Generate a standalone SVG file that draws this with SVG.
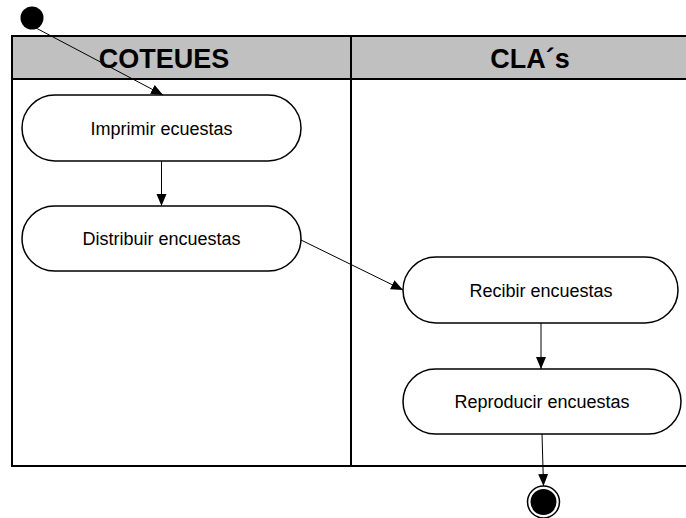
<svg xmlns="http://www.w3.org/2000/svg" width="686" height="518" viewBox="0 0 686 518">
<style>
.lane{fill:none;stroke:#000;stroke-width:2}
.head{fill:#c0c0c0;stroke:#000;stroke-width:2}
.ht{font-family:"Liberation Sans",Arial,sans-serif;font-weight:bold;font-size:27px;fill:#000;text-anchor:middle}
.act{fill:#fff;stroke:#000;stroke-width:1.5}
.at{font-family:"Liberation Sans",Arial,sans-serif;font-size:18px;fill:#000;text-anchor:middle}
.con{fill:none;stroke:#000;stroke-width:1;marker-end:url(#arr)}
</style>
<defs>
<marker id="arr" markerUnits="userSpaceOnUse" markerWidth="14" markerHeight="12" refX="12" refY="5" orient="auto">
<path d="M0,0 L12,5 L0,10 Z" fill="#000"/>
</marker>
</defs>
<rect width="686" height="518" fill="#fff"/>
<g id="swimlanes">
<rect class="head" x="12" y="36" width="690" height="43"/>
<rect class="lane" x="12" y="36" width="690" height="430"/>
<line class="lane" x1="351" y1="36" x2="351" y2="466"/>
<text class="ht" x="164" y="68">COTEUES</text>
<text class="ht" x="530" y="68">CLA´s</text>
</g>
<g id="start">
<circle cx="32" cy="18" r="11.5" fill="#000"/>
</g>
<g id="imprimir">
<rect class="act" x="22" y="95" width="279" height="66" rx="33" ry="33"/>
<text class="at" x="161.5" y="134.5">Imprimir ecuestas</text>
</g>
<g id="distribuir">
<rect class="act" x="22" y="206" width="279" height="65" rx="32.5" ry="32.5"/>
<text class="at" x="161.5" y="245">Distribuir encuestas</text>
</g>
<g id="recibir">
<rect class="act" x="403" y="257" width="275" height="66" rx="33" ry="33"/>
<text class="at" x="541" y="296.5">Recibir encuestas</text>
</g>
<g id="reproducir">
<rect class="act" x="403" y="369" width="278" height="65" rx="32.5" ry="32.5"/>
<text class="at" x="542" y="408">Reproducir encuestas</text>
</g>
<g id="end">
<circle cx="543.5" cy="502" r="16" fill="#fff" stroke="#000" stroke-width="1.5"/>
<circle cx="543.5" cy="502" r="13" fill="#000"/>
</g>
<g id="connectors">
<line class="con" x1="36" y1="28" x2="163" y2="95"/>
<line class="con" x1="161.5" y1="161" x2="161.5" y2="206"/>
<line class="con" x1="301" y1="240" x2="403" y2="290"/>
<line class="con" x1="541" y1="323" x2="541" y2="369"/>
<line class="con" x1="542" y1="434" x2="543.5" y2="486"/>
</g>
</svg>
